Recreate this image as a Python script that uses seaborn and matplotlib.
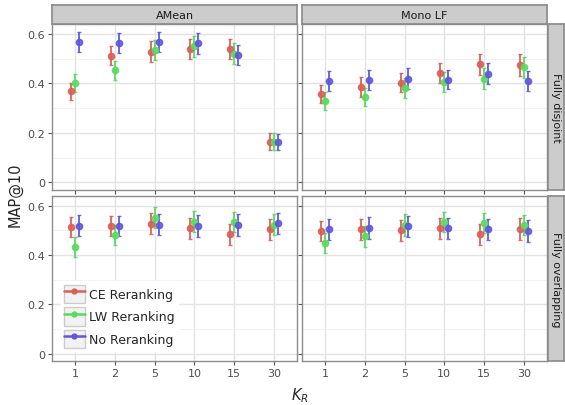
import numpy as np
import pandas as pd
import matplotlib
matplotlib.use("Agg")
import matplotlib.pyplot as plt
import seaborn as sns
from matplotlib.lines import Line2D
from matplotlib.patches import Patch, Rectangle

# datos
k_values = ["1", "2", "5", "10", "15", "30"]
methods = ["CE Reranking", "LW Reranking", "No Reranking"]
aggs = ["AMean", "Mono LF"]
scenarios = ["Fully disjoint", "Fully overlapping"]

# AMean / Fully disjoint
am_dis_ce = [0.368, 0.512, 0.529, 0.538, 0.538, 0.165]
am_dis_lw = [0.403, 0.454, 0.535, 0.551, 0.521, 0.165]
am_dis_no = [0.567, 0.565, 0.569, 0.563, 0.516, 0.162]
am_dis_ce_err = [0.033, 0.039, 0.041, 0.040, 0.040, 0.033]
am_dis_lw_err = [0.036, 0.038, 0.040, 0.042, 0.041, 0.034]
am_dis_no_err = [0.040, 0.041, 0.041, 0.043, 0.041, 0.032]

# Mono LF / Fully disjoint
lf_dis_ce = [0.356, 0.386, 0.403, 0.442, 0.477, 0.475]
lf_dis_lw = [0.330, 0.344, 0.382, 0.407, 0.420, 0.465]
lf_dis_no = [0.410, 0.414, 0.420, 0.415, 0.439, 0.411]
lf_dis_ce_err = [0.036, 0.040, 0.038, 0.039, 0.041, 0.044]
lf_dis_lw_err = [0.037, 0.037, 0.040, 0.040, 0.041, 0.044]
lf_dis_no_err = [0.041, 0.042, 0.042, 0.039, 0.042, 0.040]

# AMean / Fully overlapping
am_ov_ce = [0.513, 0.517, 0.527, 0.507, 0.483, 0.503]
am_ov_lw = [0.432, 0.480, 0.551, 0.535, 0.533, 0.523]
am_ov_no = [0.519, 0.517, 0.523, 0.517, 0.521, 0.528]
am_ov_ce_err = [0.040, 0.040, 0.043, 0.043, 0.041, 0.043]
am_ov_lw_err = [0.039, 0.041, 0.042, 0.042, 0.040, 0.043]
am_ov_no_err = [0.041, 0.041, 0.041, 0.043, 0.043, 0.043]

# Mono LF / Fully overlapping
lf_ov_ce = [0.497, 0.503, 0.500, 0.507, 0.484, 0.505]
lf_ov_lw = [0.448, 0.475, 0.521, 0.533, 0.529, 0.520]
lf_ov_no = [0.503, 0.509, 0.516, 0.508, 0.503, 0.497]
lf_ov_ce_err = [0.042, 0.042, 0.043, 0.043, 0.042, 0.043]
lf_ov_lw_err = [0.041, 0.043, 0.043, 0.042, 0.041, 0.041]
lf_ov_no_err = [0.043, 0.043, 0.043, 0.043, 0.042, 0.043]

colores = {"CE Reranking": "#db5f57", "LW Reranking": "#57db5f", "No Reranking": "#5f57db"}

panel_data = {
    ("AMean", "Fully disjoint"): [(am_dis_ce, am_dis_ce_err), (am_dis_lw, am_dis_lw_err), (am_dis_no, am_dis_no_err)],
    ("Mono LF", "Fully disjoint"): [(lf_dis_ce, lf_dis_ce_err), (lf_dis_lw, lf_dis_lw_err), (lf_dis_no, lf_dis_no_err)],
    ("AMean", "Fully overlapping"): [(am_ov_ce, am_ov_ce_err), (am_ov_lw, am_ov_lw_err), (am_ov_no, am_ov_no_err)],
    ("Mono LF", "Fully overlapping"): [(lf_ov_ce, lf_ov_ce_err), (lf_ov_lw, lf_ov_lw_err), (lf_ov_no, lf_ov_no_err)],
}

filas = []
for (agg, sc), series in panel_data.items():
    for m, (vals, errs) in zip(methods, series):
        for k, v, e in zip(k_values, vals, errs):
            filas.append({"agg": agg, "scenario": sc, "method": m, "k": k, "map": v, "err": e})
df = pd.DataFrame(filas)

sns.set_theme(style="whitegrid")
plt.rcParams["font.family"] = ["DejaVu Sans"]

dodge = {"CE Reranking": -0.1, "LW Reranking": 0.0, "No Reranking": 0.1}


def dibujar(data, **kws):
    ax = plt.gca()
    for m in methods:
        d = data[data["method"] == m]
        xs = np.array([k_values.index(k) for k in d["k"]]) + 1 + dodge[m]
        ax.errorbar(xs, d["map"], yerr=d["err"], fmt="o", color=colores[m],
                    ms=4.5, elinewidth=1.4, capsize=1.2, capthick=1.0, alpha=0.9)


g = sns.FacetGrid(df, row="scenario", col="agg", row_order=scenarios, col_order=aggs,
                  sharex=True, sharey=True, despine=False)
g.fig.set_size_inches(5.65, 4.06)
g.map_dataframe(dibujar)
g.set_titles("")
g.fig.subplots_adjust(left=0.092, right=0.968, top=0.938, bottom=0.108, wspace=0.02, hspace=0.036)

for i, row_axes in enumerate(g.axes):
    for j, ax in enumerate(row_axes):
        ax.set_xlim(0.42, 6.58)
        ax.set_ylim(-0.03, 0.64)
        ax.set_xticks(range(1, 7))
        ax.set_xticklabels(k_values)
        ax.set_yticks([0, 0.2, 0.4, 0.6])
        ax.set_yticklabels(["0", "0.2", "0.4", "0.6"])
        ax.set_yticks([0.1, 0.3, 0.5], minor=True)
        ax.set_facecolor("white")
        ax.grid(True, which="major", color="#e3e3e3", lw=1.0)
        ax.grid(True, which="minor", axis="y", color="#f0f0f0", lw=0.6)
        ax.set_axisbelow(True)
        for s in ax.spines.values():
            s.set_color("#8c8c8c")
            s.set_linewidth(1.0)
        ax.tick_params(axis="both", which="major", length=3, width=0.8, color="#555555",
                       labelsize=8, labelcolor="#4d4d4d", pad=2, bottom=True, left=True)
        ax.tick_params(which="minor", length=0)
        ax.set_xlabel("")
        ax.set_ylabel("")
        pos = ax.get_position()
        if i == 0:
            sax = g.fig.add_axes([pos.x0, pos.y1, pos.width, 0.047])
            sax.set_xticks([]); sax.set_yticks([])
            sax.set_facecolor("#cccccc")
            for s in sax.spines.values():
                s.set_color("#8c8c8c")
            sax.text(0.5, 0.5, aggs[j], ha="center", va="center", fontsize=8, color="#1a1a1a")
        if j == 1:
            sax = g.fig.add_axes([pos.x1 + 0.002, pos.y0, 0.028, pos.height])
            sax.set_xticks([]); sax.set_yticks([])
            sax.set_facecolor("#cccccc")
            for s in sax.spines.values():
                s.set_color("#8c8c8c")
            sax.text(0.5, 0.5, scenarios[i], ha="center", va="center", rotation=-90,
                     fontsize=8, color="#1a1a1a")

g.fig.text(0.027, 0.52, "MAP@10", rotation=90, ha="center", va="center", fontsize=10.5)
g.fig.text(0.53, 0.025, "$K_R$", ha="center", va="center", fontsize=10.5)

handles = [(Patch(facecolor="#f2f2f2", edgecolor="#cccccc"),
            Line2D([], [], color=colores[m], marker="o", ms=3.5, lw=1.8)) for m in methods]
g.axes[1][0].legend(handles, methods, loc="lower left", bbox_to_anchor=(0.035, 0.06),
                    frameon=True, facecolor="white", edgecolor="white", framealpha=1,
                    fontsize=9, handlelength=1.7, handleheight=1.9, labelspacing=0.32,
                    handletextpad=0.35, borderpad=0.25, borderaxespad=0)

g.fig.savefig("out.png", dpi=100)
